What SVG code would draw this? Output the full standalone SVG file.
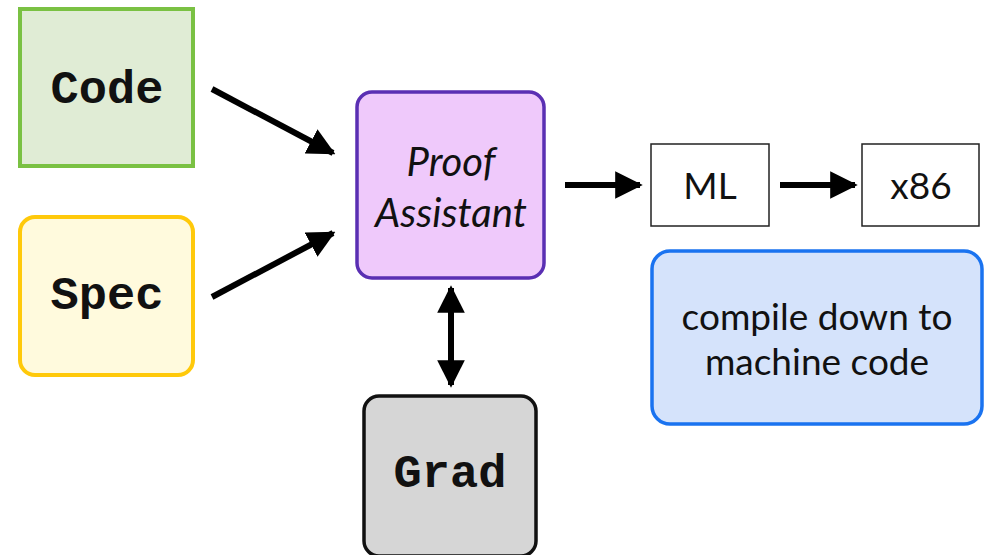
<svg xmlns="http://www.w3.org/2000/svg" width="991" height="555" viewBox="0 0 991 555">
  <style>
    .mono { font-family: "Liberation Mono", "Courier New", monospace; font-weight: bold; font-size: 47px; fill: #111; text-anchor: middle; }
    .sans { font-family: "Lato", "Open Sans", "Liberation Sans", sans-serif; font-size: 37px; fill: #111; text-anchor: middle; }
    .ital { font-style: italic; font-size: 40px; }
    .edge { stroke: #000; stroke-width: 6; fill: none; }
  </style>
  <defs>
    <marker id="head" viewBox="0 0 10 10" refX="9" refY="5" markerWidth="4.6" markerHeight="4.6" orient="auto-start-reverse" markerUnits="strokeWidth">
      <path d="M0,0 L10,5 L0,10 Z" fill="#000"/>
    </marker>
  </defs>

  <rect width="991" height="555" fill="#fff"/>

  <g id="code">
    <rect x="20" y="9" width="173" height="157" fill="#e0ecd5" stroke="#7ac143" stroke-width="4"/>
    <text class="mono" x="107" y="103">Code</text>
  </g>

  <g id="spec">
    <rect x="20" y="217" width="173" height="158" rx="15" fill="#fffadd" stroke="#ffc90a" stroke-width="4"/>
    <text class="mono" x="107" y="309">Spec</text>
  </g>

  <g id="proof-assistant">
    <rect x="357" y="92" width="187" height="186" rx="15" fill="#efc9fb" stroke="#5a2fb3" stroke-width="3.5"/>
    <text class="sans ital" x="451" y="176">Proof</text>
    <text class="sans ital" x="451" y="227">Assistant</text>
  </g>

  <g id="ml">
    <rect x="651" y="144" width="118" height="82" fill="#fff" stroke="#222" stroke-width="1.5"/>
    <text class="sans" x="710" y="199">ML</text>
  </g>

  <g id="x86">
    <rect x="862" y="144" width="117" height="82" fill="#fff" stroke="#222" stroke-width="1.5"/>
    <text class="sans" x="921" y="199">x86</text>
  </g>

  <g id="note">
    <rect x="652" y="251" width="330" height="173" rx="18" fill="#d5e3fb" stroke="#1a73f0" stroke-width="3.5"/>
    <text class="sans" x="817" y="330">compile down to</text>
    <text class="sans" x="817" y="375">machine code</text>
  </g>

  <g id="grad">
    <rect x="364" y="396" width="172" height="160" rx="15" fill="#d6d6d6" stroke="#111" stroke-width="3.5"/>
    <text class="mono" x="450" y="487">Grad</text>
  </g>

  <g id="connectors">
    <line class="edge" x1="212" y1="89" x2="333" y2="153" marker-end="url(#head)"/>
    <line class="edge" x1="212" y1="297" x2="333" y2="233" marker-end="url(#head)"/>
    <line class="edge" x1="565" y1="185" x2="640" y2="185" marker-end="url(#head)"/>
    <line class="edge" x1="780" y1="185" x2="855" y2="185" marker-end="url(#head)"/>
    <line class="edge" x1="451" y1="288" x2="451" y2="385" marker-start="url(#head)" marker-end="url(#head)"/>
  </g>
</svg>
